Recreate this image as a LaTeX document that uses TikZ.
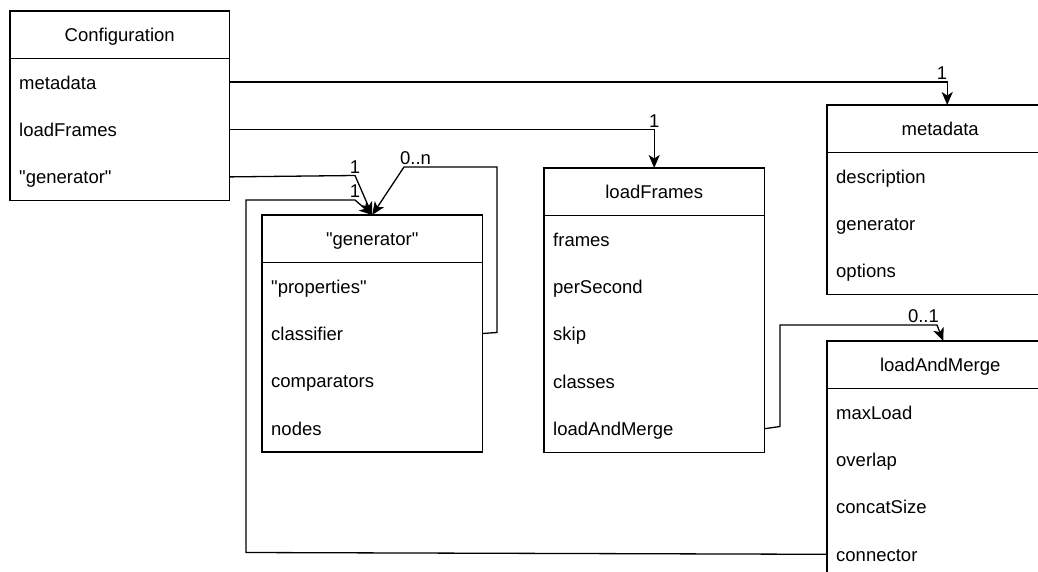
\documentclass[tikz,border=0pt]{standalone}
\usepackage{fontspec}
% family without TeX ligature mapping, so " stays a straight quote
\newfontfamily\diagfont{Liberation Sans}
\usetikzlibrary{arrows.meta}

\tikzset{
  every node/.style={font=\diagfont\fontsize{18.5}{22}\selectfont},
  outline/.style={draw, line width=1.3pt},
  hdr/.style={minimum height=47pt, inner sep=0pt, anchor=north west,
    text height=16pt, text depth=2pt},
  row/.style={minimum height=47pt, inner xsep=9pt, inner ysep=0pt, anchor=north west,
    text height=16pt, text depth=2pt},
  conn/.style={line width=1.3pt, -{Stealth[length=13pt, width=11pt, inset=3.5pt]}},
  lbl/.style={inner sep=1.5pt},
}

\begin{document}
\begin{tikzpicture}[x=1pt, y=-1pt]
  \useasboundingbox (0,0) rectangle (1038,572);
  \clip (0,0) rectangle (1038,572);

  % Configuration
  \node[hdr, minimum width=219pt] (cfg) at (10,11) {Configuration};
  \node[row] (cfg-meta) at (cfg.south west) {metadata};
  \node[row] (cfg-load) at (cfg-meta.south west) {loadFrames};
  \node[row] (cfg-gen)  at (cfg-load.south west) {"generator"};
  \draw[outline] (cfg.north west) rectangle (cfg.east |- cfg-gen.south)
    (cfg.south west) -- (cfg.south east);

  % metadata
  \node[hdr, minimum width=226pt] (meta) at (827,105) {metadata};
  \node[row] (meta-desc) at (meta.south west) {description};
  \node[row] (meta-gen)  at (meta-desc.south west) {generator};
  \node[row] (meta-opt)  at (meta-gen.south west) {options};
  \draw[outline] (meta.north west) rectangle (meta.east |- meta-opt.south)
    (meta.south west) -- (meta.south east);

  % loadFrames
  \node[hdr, minimum width=220pt] (lf) at (544,168) {loadFrames};
  \node[row] (lf-frames) at (lf.south west) {frames};
  \node[row] (lf-per)    at (lf-frames.south west) {perSecond};
  \node[row] (lf-skip)   at (lf-per.south west) {skip};
  \node[row] (lf-cls)    at (lf-skip.south west) {classes};
  \node[row] (lf-lam)    at (lf-cls.south west) {loadAndMerge};
  \draw[outline] (lf.north west) rectangle (lf.east |- lf-lam.south)
    (lf.south west) -- (lf.south east);

  % "generator"
  \node[hdr, minimum width=220pt] (gen) at (262,215) {"generator"};
  \node[row] (gen-prop) at (gen.south west) {"properties"};
  \node[row] (gen-cls)  at (gen-prop.south west) {classifier};
  \node[row] (gen-cmp)  at (gen-cls.south west) {comparators};
  \node[row] (gen-nod)  at (gen-cmp.south west) {nodes};
  \draw[outline] (gen.north west) rectangle (gen.east |- gen-nod.south)
    (gen.south west) -- (gen.south east);

  % loadAndMerge
  \node[hdr, minimum width=226pt] (lam) at (827,341) {loadAndMerge};
  \node[row] (lam-max) at (lam.south west) {maxLoad};
  \node[row] (lam-ovl) at (lam-max.south west) {overlap};
  \node[row] (lam-cat) at (lam-ovl.south west) {concatSize};
  \node[row] (lam-con) at (lam-cat.south west) {connector};
  \draw[outline] (lam.north west) rectangle (lam.east |- lam-con.south)
    (lam.south west) -- (lam.south east);

  % connectors
  \draw[conn] (cfg.east |- cfg-meta) -| ([xshift=7pt]meta.north)
    node[pos=0.5, lbl, anchor=south east, xshift=2pt] {1};
  \draw[conn] (cfg.east |- cfg-load) -| (lf.north)
    node[pos=0.5, lbl, anchor=south] {1};
  \draw[conn] (cfg.east |- cfg-gen) -- (355,175.5)
    node[lbl, anchor=south] {1} -- (gen.north);
  \draw[conn] (gen.east |- gen-cls) -- (497,332.5) -- (497,167) -- (404,167)
    node[lbl, anchor=south west, xshift=-6pt] {0..n} -- (gen.north);
  \draw[conn] (lam.west |- lam-con) -- (246,552.5) -- (246,200) -- (355,200)
    node[lbl, anchor=south] {1} -- (gen.north);
  \draw[conn] (lf.east |- lf-lam) -- (780,426.5) -- (780,325) -- (937,325)
    node[lbl, anchor=south east, xshift=4pt] {0..1} -- ([xshift=3pt]lam.north);
\end{tikzpicture}
\end{document}
